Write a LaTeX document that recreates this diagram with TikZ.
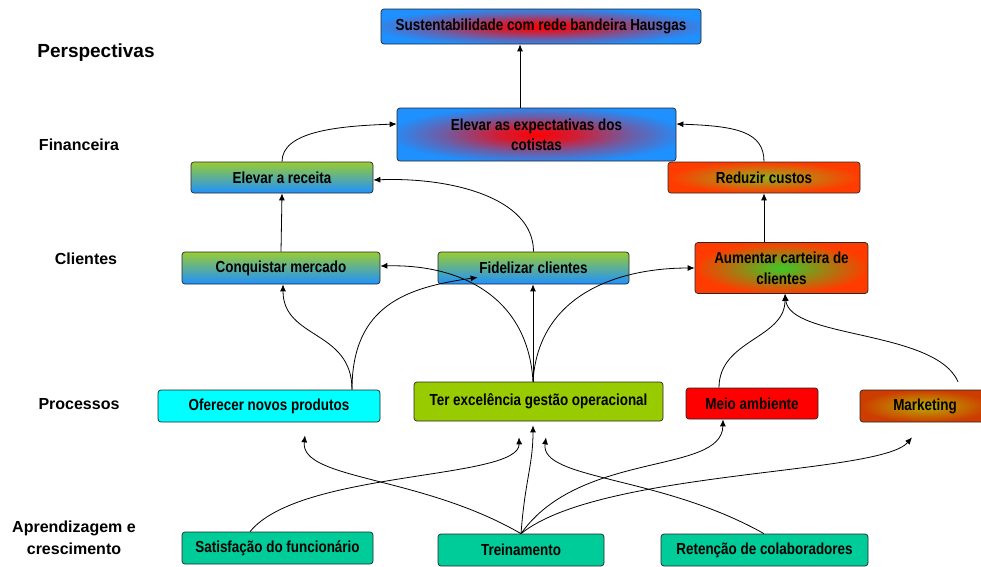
\documentclass[tikz,border=0pt]{standalone}
\usepackage{fontspec}
\setmainfont{Liberation Sans}
\newfontfamily\narrowfont{Liberation Sans}[FakeStretch=0.84]
\usetikzlibrary{arrows.meta}
\definecolor{azul}{RGB}{30,144,255}
\definecolor{verdeclaro}{RGB}{153,204,51}
\definecolor{laranja}{RGB}{255,60,0}
\definecolor{oliva}{RGB}{150,175,30}
\definecolor{verdevivo}{RGB}{60,200,40}
\definecolor{ciano}{RGB}{0,255,255}
\definecolor{verdelima}{RGB}{153,204,0}
\definecolor{ferrugem}{RGB}{205,60,0}
\definecolor{mostarda}{RGB}{185,175,0}
\definecolor{turquesa}{RGB}{0,204,153}
\pgfdeclareradialshading{azulvermelho}{\pgfpoint{0bp}{0bp}}{%
  color(0bp)=(red); color(7bp)=(red!80!azul); color(17bp)=(red!35!azul);
  color(27bp)=(azul); color(50bp)=(azul)}

\begin{document}
\begin{tikzpicture}[x=1pt, y=-1pt,
  box/.style={draw=black!85, rounded corners=3pt, line width=0.7pt,
              inner sep=0pt, align=center,
              font=\narrowfont\bfseries\fontsize{16}{18}\selectfont},
  azvm/.style={box, shading=azulvermelho},
  vdaz/.style={box, top color=verdeclaro, bottom color=azul},
  lrvd/.style={box, inner color=oliva, outer color=laranja},
  seta/.style={-{Latex[length=7pt,width=6pt]}, line width=0.8pt},
  persp/.style={align=center, font=\bfseries\fontsize{16}{22}\selectfont}]
  \useasboundingbox (0,0) rectangle (981,566);
  \clip (0,0) rectangle (981,566);
  % perspectivas (esquerda)
  \node[persp, font=\bfseries\fontsize{19}{22}\selectfont] (persp) at (96,53) {Perspectivas};
  \node[persp] (fin)  at (79,145) {Financeira};
  \node[persp] (cli)  at (86,259) {Clientes};
  \node[persp] (proc) at (79,404) {Processos};
  \node[persp] (apr)  at (74,538) {Aprendizagem e\\crescimento};
  % financeira
  \node[azvm, minimum width=320pt, minimum height=35pt] (sust) at (541,26.5)
      {Sustentabilidade com rede bandeira Hausgas};
  \node[azvm, minimum width=279pt, minimum height=53pt,
        font=\narrowfont\bfseries\fontsize{16}{20}\selectfont] (expect) at (536.5,134.5)
      {Elevar as expectativas dos\\cotistas};
  \node[vdaz, minimum width=182pt, minimum height=31pt] (receita) at (282,177.5) {Elevar a receita};
  \node[lrvd, minimum width=192pt, minimum height=31pt] (custos) at (764,177.5) {Reduzir custos};
  % clientes
  \node[vdaz, minimum width=198pt, minimum height=32pt] (conq) at (281,268) {Conquistar mercado};
  \node[vdaz, minimum width=191pt, minimum height=32pt] (fidel) at (533.5,268) {Fidelizar clientes};
  \node[box, inner color=verdevivo, outer color=laranja, minimum width=173pt, minimum height=51pt,
        font=\narrowfont\bfseries\fontsize{16}{21}\selectfont]
      (aument) at (781.5,268) {Aumentar carteira de\\clientes};
  % processos
  \node[box, fill=ciano, minimum width=222pt, minimum height=32pt] (oferec) at (269,406) {Oferecer novos produtos};
  \node[box, fill=verdelima, minimum width=249pt, minimum height=39pt] (excel) at (538.5,401.5)
      {Ter excelência gestão operacional};
  \node[box, fill=red, minimum width=132pt, minimum height=31pt] (meio) at (752,403.5) {Meio ambiente};
  \node[box, inner color=mostarda, outer color=ferrugem, minimum width=130pt, minimum height=32pt]
      (mkt) at (925,406) {Marketing};
  % aprendizagem
  \node[box, fill=turquesa, minimum width=191pt, minimum height=32pt] (satisf) at (277.5,548)
      {Satisfação do funcionário};
  \node[box, fill=turquesa, minimum width=166pt, minimum height=32pt] (trein) at (521,550) {Treinamento};
  \node[box, fill=turquesa, minimum width=207pt, minimum height=32pt] (reten) at (764.5,550)
      {Retenção de colaboradores};
  % setas
  \draw[seta] ([xshift=-16.5pt]expect.north) -- ([xshift=-21pt]sust.south);
  \draw[seta] (receita.north) .. controls +(0,-30) and +(-60,2) .. ([yshift=10.5pt]expect.west);
  \draw[seta] (custos.north) .. controls +(0,-30) and +(60,2) .. ([yshift=10.5pt]expect.east);
  \draw[seta] (conq.north) -- (receita.south);
  \draw[seta] (fidel.north) .. controls +(0,-55) and +(75,-3) .. ([yshift=-2.5pt]receita.east);
  \draw[seta] ([xshift=-17.5pt]aument.north) -- (custos.south);
  \draw[seta] ([xshift=83pt]oferec.north) .. controls +(0,-60) and +(0,55) .. ([xshift=2pt]conq.south);
  \draw[seta] ([xshift=83pt]oferec.north) .. controls +(0,-85) and +(-70,10)
      .. ([shift={(40pt,7pt)}]fidel.south west);
  \draw[seta] ([xshift=-5.5pt]excel.north) -- ([xshift=-0.5pt]fidel.south);
  \draw[seta] ([xshift=-5.5pt]excel.north) .. controls +(-5,-85) and +(80,-2) .. ([yshift=2pt]conq.east);
  \draw[seta] ([xshift=-5.5pt]excel.north) .. controls +(5,-85) and +(-80,0) .. (aument.west);
  \draw[seta] ([xshift=-33pt]meio.north) .. controls +(0,-48) and +(0,45) .. ([xshift=3.5pt]aument.south);
  \draw[seta] ([shift={(33pt,8pt)}]mkt.north) .. controls +(-23,-52) and +(5,45) .. ([xshift=3.5pt]aument.south);
  \draw[seta] (trein.north) .. controls (420,475) and (300,480) .. ([shift={(36pt,-13pt)}]oferec.south);
  \draw[seta] ([xshift=-27.5pt]satisf.north) .. controls (300,470) and (520,480)
      .. ([shift={(-19.5pt,-16pt)}]excel.south);
  \draw[seta] (trein.north) .. controls (525,480) and (533,465) .. ([shift={(-5.5pt,-4pt)}]excel.south);
  \draw[seta] ([xshift=-0.5pt]reten.north) .. controls (660,475) and (540,480)
      .. ([shift={(7.5pt,-16pt)}]excel.south);
  \draw[seta] (trein.north) .. controls (580,450) and (722,475) .. ([xshift=-29pt]meio.south);
  \draw[seta] (trein.north) .. controls (600,470) and (880,475) .. ([shift={(-13pt,-15pt)}]mkt.south);
\end{tikzpicture}
\end{document}
